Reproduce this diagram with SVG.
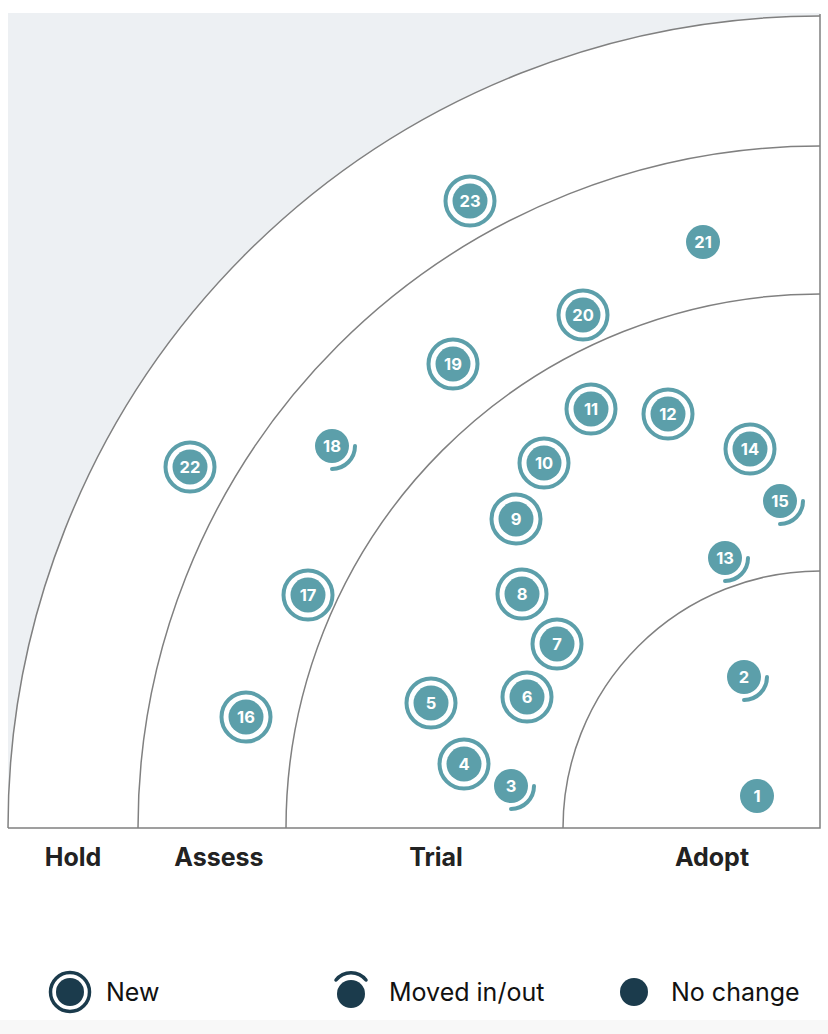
<svg xmlns="http://www.w3.org/2000/svg" width="828" height="1034" viewBox="0 0 828 1034">
<style>
.ring{fill:none;stroke:#808080;stroke-width:1.5}
.b{fill:#5c9faa}
.nr{fill:none;stroke:#5c9faa;stroke-width:4}
.mv{fill:none;stroke:#5c9faa;stroke-width:4;stroke-linecap:round}
.t{font-family:Inter,"Liberation Sans",sans-serif;font-size:16.5px;font-weight:700;fill:#fff;text-anchor:middle;dominant-baseline:central}
.q{font-family:Inter,"Liberation Sans",sans-serif;font-size:25px;font-weight:700;fill:#222;text-anchor:middle}
.lg{font-family:Inter,"Liberation Sans",sans-serif;font-size:25px;fill:#111}
.d{fill:#1b3b4c}
</style>
<defs>
<g id="new"><circle r="24.5" class="nr"/><circle r="17.5" class="b"/></g>
<g id="mov"><circle r="17" class="b"/><path d="M23,0 A23,23 0 0 1 0,23" class="mv"/></g>
<g id="plain"><circle r="17" class="b"/></g>
</defs>
<rect x="0" y="0" width="828" height="1034" fill="#fff"/>
<rect x="0" y="1020" width="828" height="14" fill="#f8f8f8"/>
<rect x="8" y="13" width="812" height="815" fill="#edf0f3"/>
<path d="M820,828 L8,828 A812,812 0 0 1 820,16 Z" fill="#fff"/>
<g id="rings">
<path class="ring" d="M8,828 A812,812 0 0 1 820,16"/>
<path class="ring" d="M138,828 A682,682 0 0 1 820,146"/>
<path class="ring" d="M286,828 A534,534 0 0 1 820,294"/>
<path class="ring" d="M563,828 A257,257 0 0 1 820,571"/>
<path class="ring" d="M820,14 L820,828 L8,828"/>
</g>
<g id="quadrants">
<text class="q" x="73" y="866">Hold</text>
<text class="q" x="219" y="866">Assess</text>
<text class="q" x="436" y="866">Trial</text>
<text class="q" x="712" y="866">Adopt</text>
</g>
<g id="connectors"></g>
<g id="b1" transform="translate(757,796)"><use href="#plain"/><text class="t">1</text></g>
<g id="b2" transform="translate(744,677)"><use href="#mov"/><text class="t">2</text></g>
<g id="b3" transform="translate(511,786)"><use href="#mov"/><text class="t">3</text></g>
<g id="b4" transform="translate(464,764)"><use href="#new"/><text class="t">4</text></g>
<g id="b5" transform="translate(431,703)"><use href="#new"/><text class="t">5</text></g>
<g id="b6" transform="translate(527,697)"><use href="#new"/><text class="t">6</text></g>
<g id="b7" transform="translate(557,644)"><use href="#new"/><text class="t">7</text></g>
<g id="b8" transform="translate(522,594)"><use href="#new"/><text class="t">8</text></g>
<g id="b9" transform="translate(516,519)"><use href="#new"/><text class="t">9</text></g>
<g id="b10" transform="translate(544,463)"><use href="#new"/><text class="t">10</text></g>
<g id="b11" transform="translate(591,409)"><use href="#new"/><text class="t">11</text></g>
<g id="b12" transform="translate(668,414)"><use href="#new"/><text class="t">12</text></g>
<g id="b13" transform="translate(725,558)"><use href="#mov"/><text class="t">13</text></g>
<g id="b14" transform="translate(750,449)"><use href="#new"/><text class="t">14</text></g>
<g id="b15" transform="translate(780,501)"><use href="#mov"/><text class="t">15</text></g>
<g id="b16" transform="translate(246,717)"><use href="#new"/><text class="t">16</text></g>
<g id="b17" transform="translate(308,595)"><use href="#new"/><text class="t">17</text></g>
<g id="b18" transform="translate(332,446)"><use href="#mov"/><text class="t">18</text></g>
<g id="b19" transform="translate(453,364)"><use href="#new"/><text class="t">19</text></g>
<g id="b20" transform="translate(583,315)"><use href="#new"/><text class="t">20</text></g>
<g id="b21" transform="translate(703,242)"><use href="#plain"/><text class="t">21</text></g>
<g id="b22" transform="translate(190,467)"><use href="#new"/><text class="t">22</text></g>
<g id="b23" transform="translate(470,201)"><use href="#new"/><text class="t">23</text></g>
<g id="legend">
<g id="lg-new"><circle cx="70" cy="992" r="19.5" fill="none" stroke="#1b3b4c" stroke-width="3.5"/><circle cx="70" cy="992" r="14" class="d"/><text class="lg" x="106" y="1001">New</text></g>
<g id="lg-moved"><circle cx="351" cy="994" r="14" class="d"/><path d="M336,980 A19,19 0 0 1 366,980" fill="none" stroke="#1b3b4c" stroke-width="3.5" stroke-linecap="round"/><text class="lg" x="389" y="1001">Moved in/out</text></g>
<g id="lg-none"><circle cx="634" cy="992" r="14" class="d"/><text class="lg" x="671" y="1001">No change</text></g>
</g>
</svg>
